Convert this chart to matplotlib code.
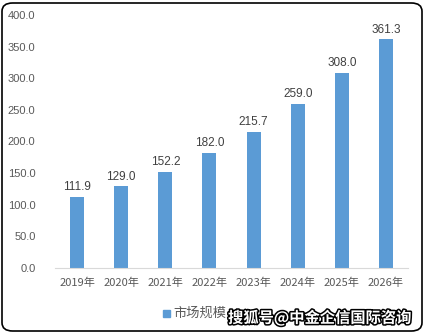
import matplotlib
matplotlib.use('Agg')
import matplotlib.pyplot as plt
import matplotlib.patheffects as pe
from matplotlib.patches import FancyBboxPatch

plt.rcParams['font.family'] = ['Noto Sans CJK SC', 'DejaVu Sans']

years = ['2019年', '2020年', '2021年', '2022年', '2023年', '2024年', '2025年', '2026年']
market = [111.9, 129.0, 152.2, 182.0, 215.7, 259.0, 308.0, 361.3]
series_name = '市场规模（亿元）'

bar_color = '#5B9BD5'
text_color = '#595959'

fig = plt.figure(figsize=(4.25, 3.33), dpi=100)
ax = fig.add_axes([55/425, 1 - 268/333, 353/425, 253/333])

x = range(len(years))
ax.bar(x, market, width=0.32, color=bar_color, zorder=2)
for i, v in zip(x, market):
    ax.text(i, v + 6, '%.1f' % v, ha='center', va='bottom', fontsize=8.5,
            color='#404040', family=['Liberation Sans', 'DejaVu Sans'])

ax.set_xlim(-0.5, len(years) - 0.5)
ax.set_ylim(0, 400)
ax.set_yticks(range(0, 401, 50))
ax.set_yticklabels(['%.1f' % t for t in range(0, 401, 50)],
                   family=['Liberation Sans', 'DejaVu Sans'])
ax.set_xticks(list(x))
ax.set_xticklabels(years)
ax.tick_params(axis='both', length=0, labelsize=8, colors=text_color)
ax.tick_params(axis='y', pad=14)
ax.tick_params(axis='x', pad=7)
for side in ['top', 'right', 'left']:
    ax.spines[side].set_visible(False)
ax.spines['bottom'].set_color('#D9D9D9')

# legend
fig.patches.append(plt.Rectangle((163/425, 1 - 317/333), 7/425, 7/333,
                                 color=bar_color, transform=fig.transFigure))
fig.text(173/425, 1 - 313/333, series_name, fontsize=9.5, color=text_color,
         va='center', ha='left')

# watermark on a white patch, hiding the end of the legend
fig.patches.append(plt.Rectangle((226/425, 1 - 329/333), 190/425, 25/333,
                                 color='white', transform=fig.transFigure,
                                 zorder=5))
fig.text(228/425, 1 - 318/333, '搜狐号@中金企信国际咨询', fontsize=11,
         weight='bold', color='white', va='center', ha='left', zorder=6,
         path_effects=[pe.withStroke(linewidth=2.2, foreground='black')])

# rounded frame
frame = FancyBboxPatch((2/425, 2/333), 420/425, 328/333,
                       boxstyle='round,pad=0,rounding_size=0.025',
                       transform=fig.transFigure, fill=False,
                       edgecolor='black', linewidth=1.2, zorder=7)
fig.patches.append(frame)

fig.savefig('out.png', dpi=100)
